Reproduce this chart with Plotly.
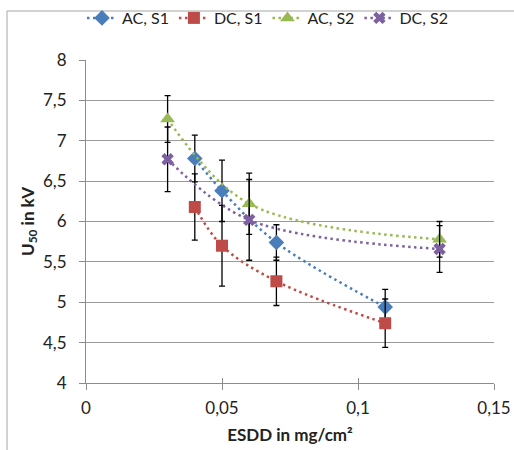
import plotly.graph_objects as go

# Data
x_s1 = [0.04, 0.05, 0.07, 0.11]
ac_s1 = [6.78, 6.38, 5.74, 4.94]
ac_s1_err = [0.29, 0.38, 0.22, 0.22]
dc_s1 = [6.18, 5.70, 5.26, 4.74]
dc_s1_err = [0.41, 0.50, 0.30, 0.30]

x_s2 = [0.03, 0.06, 0.13]
ac_s2 = [7.27, 6.22, 5.78]
ac_s2_err = [0.29, 0.38, 0.22]
dc_s2 = [6.77, 6.02, 5.66]
dc_s2_err = [0.40, 0.50, 0.29]

series = [
    ("AC, S1", x_s1, ac_s1, ac_s1_err, "#4a7ebb", "diamond", 12),
    ("DC, S1", x_s1, dc_s1, dc_s1_err, "#be4b48", "square", 12),
    ("AC, S2", x_s2, ac_s2, ac_s2_err, "#98b954", "triangle-up", 13),
    ("DC, S2", x_s2, dc_s2, dc_s2_err, "#7d60a0", "x", 11),
]

FONT = "Lato, Carlito, Calibri, sans-serif"
FS = 17
AXC = "#8c8c8c"

fig = go.Figure()
for name, xs, ys, errs, color, sym, size in series:
    fig.add_trace(go.Scatter(
        x=xs, y=ys, name=name, mode="lines+markers",
        line=dict(color=color, width=2.5, dash="2.5px,3.5px", shape="spline", smoothing=1.0),
        marker=dict(color=color, symbol=sym, size=size, line=dict(width=0)),
        error_y=dict(type="data", array=errs, visible=True, color="black",
                     thickness=1.3, width=3),
    ))

# invisible helper trace so the overlay axis (inner half of cross ticks) is drawn
fig.add_trace(go.Scatter(x=[None], y=[None], xaxis="x2", showlegend=False,
                         hoverinfo="skip", mode="markers"))

fig.update_layout(
    width=514, height=450,
    margin=dict(l=86, r=20, t=60, b=67, autoexpand=False),
    paper_bgcolor="white", plot_bgcolor="white",
    separators=",.",
    font=dict(family=FONT, size=FS, color="#222222"),
    showlegend=True,
    legend=dict(orientation="h", xref="container", yref="container",
                x=82 / 514, y=1 - 18 / 450, xanchor="left", yanchor="middle",
                font=dict(family=FONT, size=16, color="#222222"),
                itemwidth=30, tracegroupgap=0, bgcolor="rgba(0,0,0,0)"),
    xaxis=dict(range=[0, 0.15], dtick=0.05, tick0=0, showgrid=False,
               showline=True, linecolor=AXC, linewidth=1,
               ticks="outside", ticklen=6, tickcolor=AXC, ticklabelstandoff=4,
               zeroline=False, automargin=False,
               title=dict(text="<b>ESDD in mg/cm²</b>", font=dict(family=FONT, size=FS), standoff=11)),
    xaxis2=dict(overlaying="x", range=[0, 0.15], dtick=0.05, tick0=0, showgrid=False,
                showline=False, ticks="inside", ticklen=5, tickcolor=AXC,
                showticklabels=False, zeroline=False, side="bottom", automargin=False),
    yaxis=dict(range=[4, 8], dtick=0.5, tick0=4, showgrid=True, gridcolor="#9a9a9a",
               gridwidth=1, showline=True, linecolor=AXC, linewidth=1,
               ticks="outside", ticklen=6, tickcolor=AXC, zeroline=False,
               ticklabelstandoff=9, automargin=False,
               title=dict(text="<b>U<sub>50</sub> in kV</b>", font=dict(family=FONT, size=FS), standoff=4)),
    shapes=[dict(type="rect", xref="paper", yref="paper",
                 x0=(7 - 86) / 408, x1=2.0, y0=-1.0, y1=1 + (60 - 11) / 323,
                 line=dict(color="#a6a6a6", width=1), layer="below")],
)

fig.write_html("out.html")
